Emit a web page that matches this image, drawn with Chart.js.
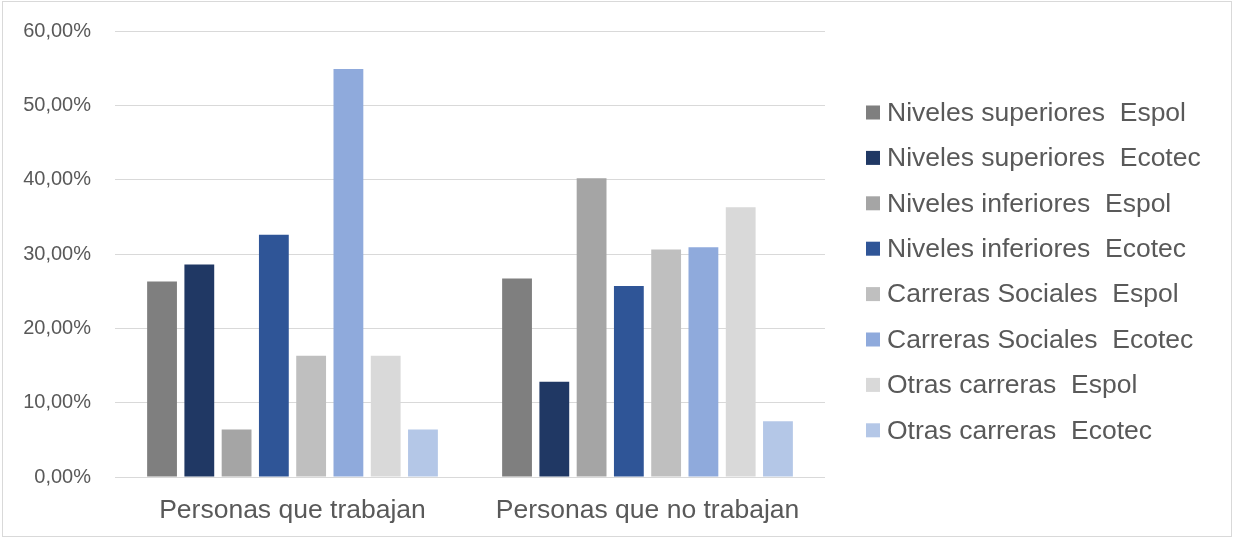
<!DOCTYPE html>
<html>
<head>
<meta charset="utf-8">
<script src="https://cdn.jsdelivr.net/npm/chart.js@4"></script>
<style>
  html, body { margin: 0; padding: 0; background: #fff; }
  #wrap { position: relative; width: 1234px; height: 540px; }
  #frame { position: absolute; left: 2px; top: 1px; width: 1230px; height: 536px; border: 1px solid #d9d9d9; box-sizing: border-box; pointer-events: none; }
  canvas { display: block; }
</style>
</head>
<body>
<div id="wrap">
  <canvas id="chartCanvas" width="1234" height="540"></canvas>
  <div id="frame"></div>
</div>
<script>
// --- data ---
const categories = ["Personas que trabajan", "Personas que no trabajan"];

const seriesNames = [
  "Niveles superiores  Espol",
  "Niveles superiores  Ecotec",
  "Niveles inferiores  Espol",
  "Niveles inferiores  Ecotec",
  "Carreras Sociales  Espol",
  "Carreras Sociales  Ecotec",
  "Otras carreras  Espol",
  "Otras carreras  Ecotec"
];

const nivSupEspol  = [26.3, 26.7];
const nivSupEcotec = [28.6, 12.8];
const nivInfEspol  = [6.4, 40.2];
const nivInfEcotec = [32.6, 25.7];
const carSocEspol  = [16.3, 30.6];
const carSocEcotec = [54.9, 30.9];
const otrasEspol   = [16.3, 36.3];
const otrasEcotec  = [6.4, 7.5];

const seriesColors = ["#7F7F7F", "#203864", "#A5A5A5", "#2F5597", "#BFBFBF", "#8FAADC", "#D9D9D9", "#B4C7E7"];

const yTicks = [0, 10, 20, 30, 40, 50, 60];

// --- build chart ---
const seriesValues = [nivSupEspol, nivSupEcotec, nivInfEspol, nivInfEcotec, carSocEspol, carSocEcotec, otrasEspol, otrasEcotec];
const FONT = "'Liberation Sans', Arial, sans-serif";
const TEXT = "#595959";

const datasets = seriesNames.map((name, i) => ({
  label: name,
  data: seriesValues[i],
  backgroundColor: seriesColors[i],
  borderWidth: 0,
  categoryPercentage: 0.84,
  barPercentage: 0.8
}));

// legend drawn to the right of the plot, one column, Excel style
const sideLegend = {
  id: "sideLegend",
  afterDraw(chart) {
    const ctx = chart.ctx;
    const items = chart.options.plugins.legend.labels.generateLabels(chart);
    const boxX = chart.chartArea.right + 41;
    const box = 14;
    const rowH = 45.4;
    const firstY = 112.5;
    ctx.save();
    ctx.font = "26.5px " + FONT;
    ctx.textBaseline = "middle";
    ctx.textAlign = "left";
    items.forEach((it, i) => {
      const cy = firstY + i * rowH;
      ctx.fillStyle = it.fillStyle;
      ctx.fillRect(boxX, cy - box / 2, box, box);
      ctx.fillStyle = TEXT;
      ctx.fillText(it.text, boxX + box + 7, cy + 1);
    });
    ctx.restore();
  }
};

const canvas = document.getElementById("chartCanvas");

new Chart(canvas, {
  type: "bar",
  data: { labels: categories, datasets },
  plugins: [sideLegend],
  options: {
    responsive: false,
    animation: false,
    layout: { padding: { left: 22, top: 31, right: 409, bottom: 14 } },
    plugins: {
      title: { display: false },
      tooltip: { enabled: false },
      legend: { display: false }
    },
    scales: {
      x: {
        grid: { display: false, drawTicks: false },
        border: { display: false },
        ticks: { font: { family: FONT, size: 26.5 }, color: TEXT, padding: 18, maxRotation: 0, autoSkip: false },
        afterFit: s => { s.height = 49; }
      },
      y: {
        min: 0,
        max: 60,
        afterBuildTicks: s => { s.ticks = yTicks.map(v => ({ value: v })); },
        grid: { color: "#d9d9d9", lineWidth: 1, drawTicks: false },
        border: { display: false },
        ticks: {
          font: { family: FONT, size: 20 },
          color: TEXT,
          padding: 24,
          callback: v => v.toFixed(2).replace(".", ",") + "%"
        },
        // tick padding also pads the top of the plot; drop that
        afterFit: s => { s.width = 93; s.paddingTop = 0; }
      }
    }
  }
});
</script>
</body>
</html>
